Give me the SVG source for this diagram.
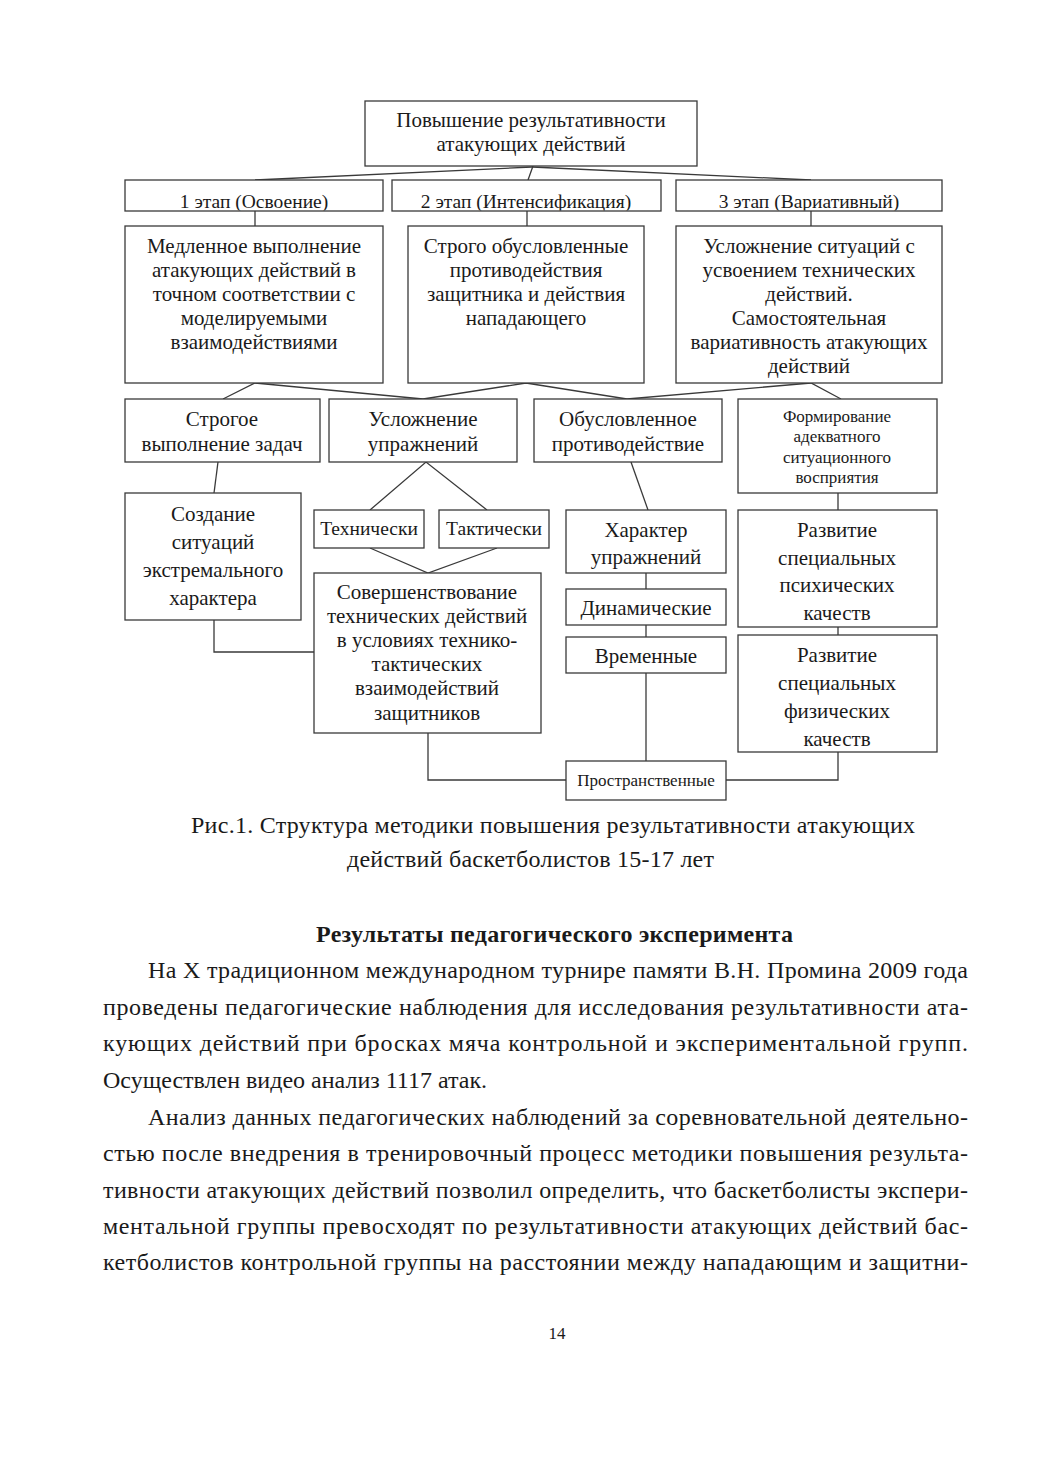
<svg xmlns="http://www.w3.org/2000/svg" width="1039" height="1471" viewBox="0 0 1039 1471">
<defs>
<style>
.box{fill:#fff;stroke:#3a3a3a;stroke-width:1.3}
.ln{fill:none;stroke:#3a3a3a;stroke-width:1.3}
text{font-family:"Liberation Serif","Times New Roman",serif;fill:#1a1a1a}
.d{font-size:21px;text-anchor:middle}
.st{font-size:19.5px;text-anchor:middle}
.sm{font-size:17px;text-anchor:middle}
.xs{font-size:17px;text-anchor:middle}
.p{font-size:24px}
.h{font-size:24px;font-weight:bold}
</style>
<clipPath id="c1"><rect x="125" y="180" width="258" height="30.5"/></clipPath>
<clipPath id="c2"><rect x="392" y="180" width="269" height="30.5"/></clipPath>
<clipPath id="c3"><rect x="676" y="180" width="266" height="30.5"/></clipPath>
</defs>
<rect width="1039" height="1471" fill="#fff"/>

<g id="connectors">
<line class="ln" x1="533" y1="166" x2="528" y2="180"/>
<line class="ln" x1="532" y1="167" x2="255" y2="180"/>
<line class="ln" x1="532" y1="167" x2="811" y2="180"/>
<line class="ln" x1="255" y1="211" x2="255" y2="226"/>
<line class="ln" x1="527" y1="211" x2="527" y2="226"/>
<line class="ln" x1="811" y1="211" x2="811" y2="226"/>
<polyline class="ln" points="223,399 255,383 423,399 526,383 627,399 811,383 841,399"/>
<line class="ln" x1="218" y1="462" x2="214" y2="493"/>
<polyline class="ln" points="370,510 426,462 487,510"/>
<polyline class="ln" points="370,548 428,573 497,548"/>
<line class="ln" x1="631" y1="462" x2="648" y2="510"/>
<line class="ln" x1="646" y1="573" x2="646" y2="589"/>
<line class="ln" x1="646" y1="625" x2="646" y2="637"/>
<line class="ln" x1="646" y1="673" x2="646" y2="761"/>
<line class="ln" x1="838" y1="493" x2="838" y2="510"/>
<line class="ln" x1="838" y1="627" x2="838" y2="635"/>
<polyline class="ln" points="838,752 838,780 726,780"/>
<polyline class="ln" points="428,733 428,780 566,780"/>
<polyline class="ln" points="214,620 214,652 314,652"/>
</g>

<g id="n-top">
<rect class="box" x="365" y="101" width="332" height="65"/>
<text class="d" x="531" y="127">Повышение результативности</text>
<text class="d" x="531" y="151">атакующих действий</text>
</g>

<g id="n-stage1">
<rect class="box" x="125" y="180" width="258" height="31"/>
<text class="st" x="254" y="207.5" clip-path="url(#c1)">1 этап (Освоение)</text>
</g>
<g id="n-stage2">
<rect class="box" x="392" y="180" width="269" height="31"/>
<text class="st" x="526" y="207.5" clip-path="url(#c2)">2 этап (Интенсификация)</text>
</g>
<g id="n-stage3">
<rect class="box" x="676" y="180" width="266" height="31"/>
<text class="st" x="809" y="207.5" clip-path="url(#c3)">3 этап (Вариативный)</text>
</g>

<g id="n-contentA">
<rect class="box" x="125" y="226" width="258" height="157"/>
<text class="d" x="254" y="253">Медленное выполнение</text>
<text class="d" x="254" y="277">атакующих действий в</text>
<text class="d" x="254" y="301">точном соответствии с</text>
<text class="d" x="254" y="325">моделируемыми</text>
<text class="d" x="254" y="349">взаимодействиями</text>
</g>
<g id="n-contentB">
<rect class="box" x="408" y="226" width="236" height="157"/>
<text class="d" x="526" y="253">Строго обусловленные</text>
<text class="d" x="526" y="277">противодействия</text>
<text class="d" x="526" y="301">защитника и действия</text>
<text class="d" x="526" y="325">нападающего</text>
</g>
<g id="n-contentC">
<rect class="box" x="676" y="226" width="266" height="157"/>
<text class="d" x="809" y="253">Усложнение ситуаций с</text>
<text class="d" x="809" y="277">усвоением технических</text>
<text class="d" x="809" y="301">действий.</text>
<text class="d" x="809" y="325">Самостоятельная</text>
<text class="d" x="809" y="349">вариативность атакующих</text>
<text class="d" x="809" y="373">действий</text>
</g>

<g id="n-r1">
<rect class="box" x="125" y="399" width="195" height="63"/>
<text class="d" x="222" y="426">Строгое</text>
<text class="d" x="222" y="451">выполнение задач</text>
</g>
<g id="n-r2">
<rect class="box" x="329" y="399" width="188" height="63"/>
<text class="d" x="423" y="426">Усложнение</text>
<text class="d" x="423" y="451">упражнений</text>
</g>
<g id="n-r3">
<rect class="box" x="534" y="399" width="188" height="63"/>
<text class="d" x="628" y="426">Обусловленное</text>
<text class="d" x="628" y="451">противодействие</text>
</g>
<g id="n-r4">
<rect class="box" x="738" y="399" width="199" height="94"/>
<text class="sm" x="837" y="422">Формирование</text>
<text class="sm" x="837" y="442">адекватного</text>
<text class="sm" x="837" y="463">ситуационного</text>
<text class="sm" x="837" y="483">восприятия</text>
</g>

<g id="n-sozdanie">
<rect class="box" x="125" y="493" width="176" height="127"/>
<text class="d" x="213" y="521">Создание</text>
<text class="d" x="213" y="549">ситуаций</text>
<text class="d" x="213" y="577">экстремального</text>
<text class="d" x="213" y="605">характера</text>
</g>
<g id="n-tekh">
<rect class="box" x="314" y="510" width="110" height="38"/>
<text class="st" x="369" y="535">Технически</text>
</g>
<g id="n-takt">
<rect class="box" x="439" y="510" width="110" height="38"/>
<text class="st" x="494" y="535">Тактически</text>
</g>
<g id="n-sover">
<rect class="box" x="314" y="573" width="227" height="160"/>
<text class="d" x="427" y="599">Совершенствование</text>
<text class="d" x="427" y="623">технических действий</text>
<text class="d" x="427" y="647">в условиях технико-</text>
<text class="d" x="427" y="671">тактических</text>
<text class="d" x="427" y="695">взаимодействий</text>
<text class="d" x="427" y="720">защитников</text>
</g>
<g id="n-kharakter">
<rect class="box" x="566" y="510" width="160" height="63"/>
<text class="d" x="646" y="537">Характер</text>
<text class="d" x="646" y="564">упражнений</text>
</g>
<g id="n-dinam">
<rect class="box" x="566" y="589" width="160" height="36"/>
<text class="d" x="646" y="615">Динамические</text>
</g>
<g id="n-vrem">
<rect class="box" x="566" y="637" width="160" height="36"/>
<text class="d" x="646" y="663">Временные</text>
</g>
<g id="n-prostr">
<rect class="box" x="566" y="761" width="160" height="39"/>
<text class="xs" x="646" y="786">Пространственные</text>
</g>
<g id="n-psikh">
<rect class="box" x="738" y="510" width="199" height="117"/>
<text class="d" x="837" y="537">Развитие</text>
<text class="d" x="837" y="565">специальных</text>
<text class="d" x="837" y="592">психических</text>
<text class="d" x="837" y="620">качеств</text>
</g>
<g id="n-fiz">
<rect class="box" x="738" y="635" width="199" height="117"/>
<text class="d" x="837" y="662">Развитие</text>
<text class="d" x="837" y="690">специальных</text>
<text class="d" x="837" y="718">физических</text>
<text class="d" x="837" y="746">качеств</text>
</g>

<g id="caption">
<text class="p" x="191" y="833" textLength="724" lengthAdjust="spacing">Рис.1. Структура методики повышения результативности атакующих</text>
<text class="p" x="347" y="867" textLength="367" lengthAdjust="spacing">действий баскетболистов 15-17 лет</text>
</g>

<g id="body">
<text class="h" x="316" y="942" textLength="477" lengthAdjust="spacing">Результаты педагогического эксперимента</text>
<text class="p" x="148" y="978" textLength="820" lengthAdjust="spacing">На Х традиционном международном турнире памяти В.Н. Промина 2009 года</text>
<text class="p" x="103" y="1015" textLength="865" lengthAdjust="spacing">проведены педагогические наблюдения для исследования результативности ата-</text>
<text class="p" x="103" y="1051" textLength="865" lengthAdjust="spacing">кующих действий при бросках мяча контрольной и экспериментальной групп.</text>
<text class="p" x="103" y="1088">Осуществлен видео анализ 1117 атак.</text>
<text class="p" x="148" y="1125" textLength="820" lengthAdjust="spacing">Анализ данных педагогических наблюдений за соревновательной деятельно-</text>
<text class="p" x="103" y="1161" textLength="865" lengthAdjust="spacing">стью после внедрения в тренировочный процесс методики повышения результа-</text>
<text class="p" x="103" y="1198" textLength="865" lengthAdjust="spacing">тивности атакующих действий позволил определить, что баскетболисты экспери-</text>
<text class="p" x="103" y="1234" textLength="865" lengthAdjust="spacing">ментальной группы превосходят по результативности атакующих действий бас-</text>
<text class="p" x="103" y="1270" textLength="865" lengthAdjust="spacing">кетболистов контрольной группы на расстоянии между нападающим и защитни-</text>
<text x="557" y="1339" style="font-size:17px;text-anchor:middle">14</text>
</g>
</svg>
